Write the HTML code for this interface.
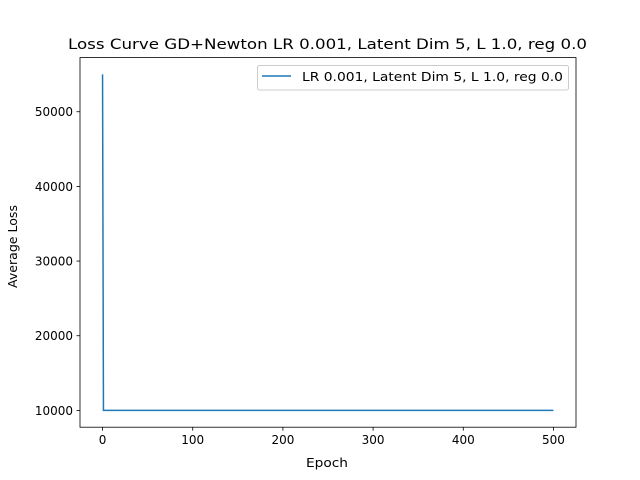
<!DOCTYPE html>
<html><head><meta charset="utf-8"><style>
body{margin:0;background:#fff;}
svg{display:block;font-family:"DejaVu Sans","Liberation Sans",sans-serif;}
</style></head><body>
<svg id="chart" width="640" height="480" viewBox="0 0 640 480" xmlns="http://www.w3.org/2000/svg">
<rect width="640" height="480" fill="#fff"/>
<text x="68" y="49" font-size="14.4" textLength="519" lengthAdjust="spacingAndGlyphs">Loss Curve GD+Newton LR 0.001, Latent Dim 5, L 1.0, reg 0.0</text>
<g id="plot"></g>
<text x="306" y="467" font-size="12" textLength="42" lengthAdjust="spacingAndGlyphs">Epoch</text>
<text transform="translate(17,288) rotate(-90)" font-size="12" textLength="83" lengthAdjust="spacingAndGlyphs">Average Loss</text>
<g>
<rect x="257.5" y="65.5" width="311" height="24.5" rx="2" fill="#fff" stroke="#ccc" stroke-width="1"/>
<line x1="262" y1="76" x2="291" y2="76" stroke="#1f77b4" stroke-width="1.5"/>
<text x="302" y="81" font-size="12" textLength="261" lengthAdjust="spacingAndGlyphs">LR 0.001, Latent Dim 5, L 1.0, reg 0.0</text>
</g>
<rect x="80" y="57.6" width="496" height="369.6" fill="none" stroke="#000" stroke-width="0.8"/>
</svg>
<script>
const epochs = [0, 1, 500];
const losses = [55000, 10000, 10000];
const xTicks = [0, 100, 200, 300, 400, 500];
const yTicks = [10000, 20000, 30000, 40000, 50000];

const L = 80, R = 576, T = 57.6, B = 427.2;
const xMin = -25, xMax = 525, yMin = 7750, yMax = 57250;
const xs = v => L + (v - xMin) / (xMax - xMin) * (R - L);
const ys = v => B - (v - yMin) / (yMax - yMin) * (B - T);
const NS = "http://www.w3.org/2000/svg";
const g = document.getElementById("plot");
function mk(tag, attrs) { const e = document.createElementNS(NS, tag); for (const k in attrs) e.setAttribute(k, attrs[k]); g.appendChild(e); return e; }

xTicks.forEach(v => {
  const t = mk("line", {x1: xs(v), x2: xs(v), y1: B, y2: B + 3.5, stroke: "#000", "stroke-width": 0.8});
  
  
  const l = mk("text", {x: xs(v), y: B + 17, "font-size": 12, "text-anchor": "middle"});
  l.textContent = v;
  
  
});
yTicks.forEach(v => {
  const t = mk("line", {x1: L - 3.5, x2: L, y1: ys(v), y2: ys(v), stroke: "#000", "stroke-width": 0.8});
  
  
  const l = mk("text", {x: L - 7, y: ys(v) + 4.5, "font-size": 12, "text-anchor": "end"});
  l.textContent = v;
  
  
});
const pts = epochs.map((e, i) => xs(e) + "," + ys(losses[i])).join(" ");
const line = mk("polyline", {points: pts, fill: "none", stroke: "#1f77b4", "stroke-width": 1.5});


</script>
</body></html>
